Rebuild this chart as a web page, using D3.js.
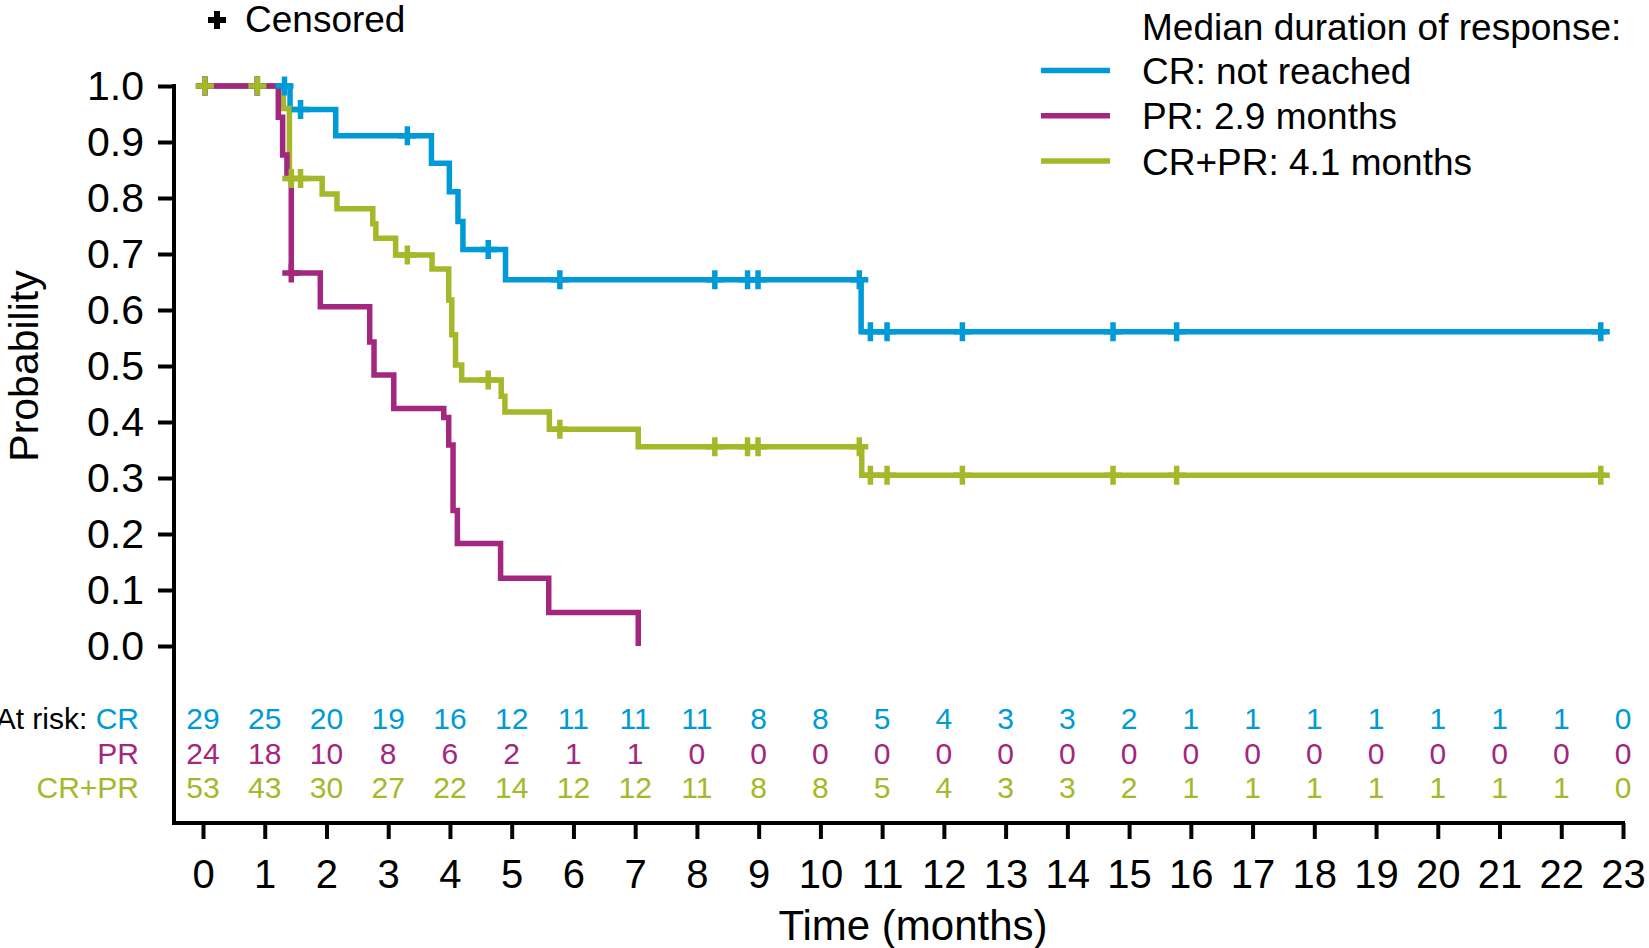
<!DOCTYPE html>
<html>
<head>
<meta charset="utf-8">
<script src="https://cdn.jsdelivr.net/npm/d3@7"></script>
<style>
  body { margin: 0; background: #fff; }
  svg { display: block; font-family: "Liberation Sans", Arial, sans-serif; }
</style>
</head>
<body>
<div id="chart"></div>
<script>
// Kaplan-Meier steps: step start time (months) and survival after it

const crTimes = [0, 1.41, 2.15, 3.70, 3.99, 4.13, 4.21, 4.90, 10.66]
const crProbs = [1.0, 0.958, 0.911, 0.862, 0.811, 0.758, 0.708, 0.654, 0.561]
const crEnd = 22.72
const crCensored = [0.03, 0.88, 1.32, 1.58, 3.31, 4.62, 5.78, 8.29, 8.82, 8.99, 10.63, 10.81, 11.08, 12.3, 14.74, 15.77, 22.64]

const prTimes = [0, 1.22, 1.29, 1.36, 1.43, 1.90, 2.70, 2.77, 3.09, 3.90, 3.98, 4.05, 4.12, 4.82, 5.60, 7.05]
const prProbs = [1.0, 0.944, 0.877, 0.838, 0.666, 0.606, 0.543, 0.484, 0.424, 0.408, 0.359, 0.242, 0.183, 0.121, 0.06, 0.0]
const prEnd = 7.05
const prCensored = [0.03, 0.88, 1.43]

const bothTimes = [0, 1.30, 1.40, 1.93, 2.17, 2.75, 2.80, 3.12, 3.71, 3.98, 4.03, 4.09, 4.19, 4.83, 4.89, 5.61, 7.05, 10.67]
const bothProbs = [1.0, 0.96, 0.835, 0.807, 0.781, 0.754, 0.728, 0.698, 0.673, 0.618, 0.556, 0.502, 0.475, 0.446, 0.418, 0.387, 0.356, 0.305]
const bothEnd = 22.72
const bothCensored = [0.03, 0.88, 1.43, 1.58, 3.31, 4.62, 5.78, 8.29, 8.82, 8.99, 10.63, 10.81, 11.08, 12.3, 14.74, 15.77, 22.64]

// numbers at risk at each month 0..23
const riskCR = [29, 25, 20, 19, 16, 12, 11, 11, 11, 8, 8, 5, 4, 3, 3, 2, 1, 1, 1, 1, 1, 1, 1, 0]
const riskPR = [24, 18, 10, 8, 6, 2, 1, 1, 0, 0, 0, 0, 0, 0, 0, 0, 0, 0, 0, 0, 0, 0, 0, 0]
const riskBoth = [53, 43, 30, 27, 22, 14, 12, 12, 11, 8, 8, 5, 4, 3, 3, 2, 1, 1, 1, 1, 1, 1, 1, 0]

const xTicks = d3.range(0, 24)
const yTicks = d3.range(0, 11).map((d) => d / 10)
const legendLabels = ['CR: not reached', 'PR: 2.9 months', 'CR+PR: 4.1 months']
const riskLabels = ['CR', 'PR', 'CR+PR']

const BLUE = '#009bd6'
const MAGENTA = '#a3277e'
const GREEN = '#a4b82a'

const width = 1649
const height = 948

const svg = d3.select('#chart').append('svg')
  .attr('width', width)
  .attr('height', height)

svg.append('rect').attr('width', width).attr('height', height).attr('fill', '#fff')

const x = d3.scaleLinear().domain([0, 23]).range([203, 1623])
const y = d3.scaleLinear().domain([0, 1]).range([646, 86])

const axisY = 174
const axisX = 823

// axes
const yAxis = d3.axisLeft(y).tickValues(yTicks).tickFormat(d3.format('.1f'))
  .tickSize(16).tickPadding(14)
const yG = svg.append('g')
  .attr('transform', `translate(${axisY},0)`)
  .call(yAxis)
yG.select('.domain').remove()
yG.selectAll('.tick line').attr('stroke', '#000').attr('stroke-width', 4)
yG.selectAll('.tick text').attr('font-size', 41).attr('font-family', null).attr('fill', '#000')

svg.append('line')
  .attr('x1', axisY).attr('x2', axisY)
  .attr('y1', y(1) - 2).attr('y2', axisX + 2)
  .attr('stroke', '#000').attr('stroke-width', 4)

const xAxis = d3.axisBottom(x).tickValues(xTicks).tickSize(16).tickPadding(21)
const xG = svg.append('g')
  .attr('transform', `translate(0,${axisX})`)
  .call(xAxis)
xG.select('.domain').remove()
xG.selectAll('.tick line').attr('stroke', '#000').attr('stroke-width', 4)
xG.selectAll('.tick text').attr('font-size', 40).attr('font-family', null).attr('fill', '#000')

svg.append('line')
  .attr('x1', axisY - 2).attr('x2', x(23) + 2)
  .attr('y1', axisX).attr('y2', axisX)
  .attr('stroke', '#000').attr('stroke-width', 4)

svg.append('text')
  .attr('transform', 'translate(38,366) rotate(-90)')
  .attr('text-anchor', 'middle')
  .attr('font-size', 41)
  .text('Probability')

svg.append('text')
  .attr('x', x(11.5)).attr('y', 940)
  .attr('text-anchor', 'middle')
  .attr('font-size', 42)
  .text('Time (months)')

// curves
const series = [
  { times: crTimes, probs: crProbs, end: crEnd, censored: crCensored, color: BLUE },
  { times: bothTimes, probs: bothProbs, end: bothEnd, censored: bothCensored, color: GREEN },
  { times: prTimes, probs: prProbs, end: prEnd, censored: prCensored, color: MAGENTA }
]

const stepLine = d3.line()
  .x((d) => x(d[0]))
  .y((d) => y(d[1]))
  .curve(d3.curveStepAfter)

series.forEach((s) => {
  const pts = s.times.map((t, i) => [t, s.probs[i]])
  const last = pts[pts.length - 1]
  if (last[0] < s.end) pts.push([s.end, last[1]])
  svg.append('path')
    .datum(pts)
    .attr('d', stepLine)
    .attr('fill', 'none')
    .attr('stroke', s.color)
    .attr('stroke-width', 5.5)
})

const probAt = (s, t) => s.probs[d3.bisectRight(s.times, t) - 1]

// censor marks, green last so it sits on top at the start
;[series[0], series[2], series[1]].forEach((s) => {
  svg.append('g').selectAll('path')
    .data(s.censored)
    .enter()
    .append('path')
    .attr('transform', (t) => `translate(${x(t)},${y(probAt(s, t))})`)
    .attr('d', 'M-9,0H9M0,-9.5V9.5')
    .attr('stroke', s.color)
    .attr('stroke-width', 5.5)
})

// censored key
svg.append('path')
  .attr('transform', 'translate(217,20)')
  .attr('d', 'M-9,0H9M0,-9V9')
  .attr('stroke', '#000')
  .attr('stroke-width', 6)
svg.append('text')
  .attr('x', 245).attr('y', 32)
  .attr('font-size', 37)
  .text('Censored')

// legend
const legend = svg.append('g')
legend.append('text')
  .attr('x', 1142).attr('y', 40)
  .attr('font-size', 37)
  .text('Median duration of response:')

const legendRows = legend.selectAll('.row')
  .data(legendLabels)
  .enter()
  .append('g')
  .attr('class', 'row')
  .attr('transform', (d, i) => `translate(0,${70.5 + i * 45.3})`)

legendRows.append('line')
  .attr('x1', 1041).attr('x2', 1110)
  .attr('stroke', (d, i) => [BLUE, MAGENTA, GREEN][i])
  .attr('stroke-width', 5.5)

legendRows.append('text')
  .attr('x', 1142).attr('y', 13.5)
  .attr('font-size', 37)
  .text((d) => d)

// numbers at risk
const riskRows = [riskCR, riskPR, riskBoth]
const riskColors = [BLUE, MAGENTA, GREEN]
const riskBase = [729, 763.5, 798]

riskRows.forEach((row, r) => {
  svg.append('g').selectAll('text')
    .data(row)
    .enter()
    .append('text')
    .attr('x', (d, i) => x(xTicks[i]))
    .attr('y', riskBase[r])
    .attr('text-anchor', 'middle')
    .attr('font-size', 30)
    .attr('fill', riskColors[r])
    .text((d) => d)

  const lab = svg.append('text')
    .attr('x', 139).attr('y', riskBase[r])
    .attr('text-anchor', 'end')
    .attr('font-size', 30)
  if (r === 0) lab.append('tspan').attr('fill', '#000').text('At risk: ')
  lab.append('tspan').attr('fill', riskColors[r]).text(riskLabels[r])
})
</script>
</body>
</html>
